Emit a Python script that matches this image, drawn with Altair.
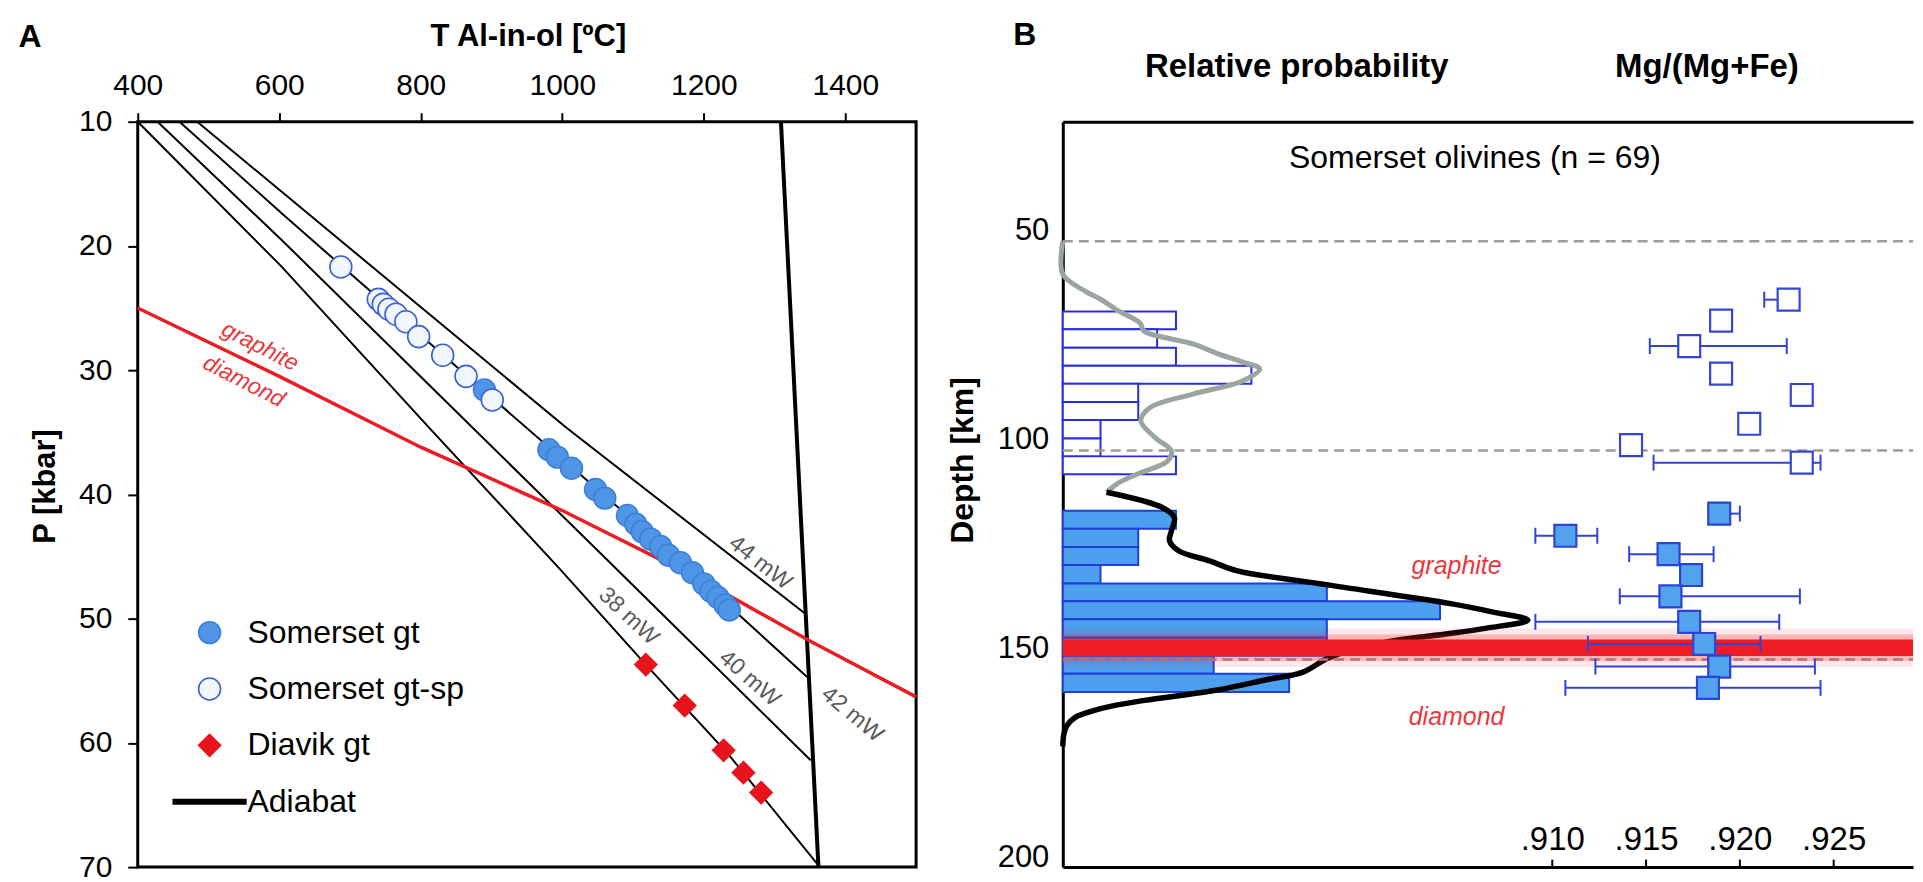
import altair as alt
import pandas as pd

FONT = "Liberation Sans"

# ---------------- Panel A : P-T diagram ----------------
geo_names = ["38 mW", "40 mW", "42 mW", "44 mW"]
geo38_T = [400, 603, 813, 998, 1118, 1233, 1364]
geo38_P = [10.0, 21.65, 34.7, 46.1, 53.7, 60.8, 70.0]
geo40_T = [428, 603, 878, 1064, 1351]
geo40_P = [10.0, 19.5, 34.9, 45.3, 61.4]
geo42_T = [459, 603, 886, 1167, 1346]
geo42_P = [10.0, 17.35, 31.5, 45.4, 54.7]
geo44_T = [484, 1005, 1343.5]
geo44_P = [10.0, 34.6, 49.6]

adiabat_T = [1309, 1362]
adiabat_P = [10.0, 70.0]

gd_T = [400, 600, 800, 1000, 1200, 1350, 1500]
gd_P = [25.0, 30.5, 36.2, 41.3, 47.0, 51.8, 56.3]

gt_T = [890, 981, 993, 1013, 1047, 1060, 1092, 1104, 1113, 1125, 1139, 1150,
        1167, 1184, 1200, 1210, 1220, 1230, 1236]
gt_P = [31.6, 36.4, 37.0, 37.9, 39.6, 40.3, 41.7, 42.4, 43.0, 43.6, 44.2, 44.9,
        45.5, 46.3, 47.2, 47.8, 48.3, 48.9, 49.3]
gtsp_T = [687, 740, 747, 755, 765, 779, 797, 831, 864, 901]
gtsp_P = [21.7, 24.3, 24.7, 25.1, 25.5, 26.1, 27.3, 28.8, 30.5, 32.4]
diavik_T = [1118, 1173, 1228, 1256, 1281]
diavik_P = [53.7, 57.0, 60.6, 62.4, 64.0]

geo_label_T = [1094, 1265, 1410, 1280]
geo_label_P = [49.8, 54.8, 57.7, 45.5]
geo_label_angle = [43, 41, 40, 38]

phaseA_labels = ["graphite", "diamond"]
phaseA_T = [573, 550]
phaseA_P = [28.1, 30.9]
phaseA_angle = [27, 27]

series_names = ["Somerset gt", "Somerset gt-sp", "Diavik gt", "Adiabat"]

# ---------------- Panel B : depth profile ----------------
open_top = [69.4, 73.7, 78.1, 82.4, 86.7, 91.1, 95.4, 99.8, 104.1]
open_bottom = [73.7, 78.1, 82.4, 86.7, 91.1, 95.4, 99.8, 104.1, 108.4]
open_count = [3, 2.5, 3, 5, 2, 2, 1, 1, 3]
fill_top = [117.1, 121.4, 125.8, 130.1, 134.5, 138.8, 143.1, 147.5, 151.8, 156.1]
fill_bottom = [121.4, 125.8, 130.1, 134.5, 138.8, 143.1, 147.5, 151.8, 156.1, 160.5]
fill_count = [3, 2, 2, 1, 7, 10, 7, 7, 4, 6]

kde_gray_depth = [52.6, 60.5, 64.6, 66.5, 69.4, 72.2, 74.1, 77.2, 79.5, 81.3, 83.2,
                  86.1, 89.2, 92.5, 95.6, 99.7, 102.8, 105.2, 108.3, 110.6, 112.7]
kde_gray_prob = [0, 0, 0.6, 1.0, 1.5, 2.05, 2.15, 3.45, 4.1, 4.7, 5.22,
                 4.75, 3.45, 2.3, 2.07, 2.46, 2.88, 2.78, 1.98, 1.45, 1.16]
kde_black_depth = [112.7, 116.4, 118.8, 121.9, 124.3, 126.7, 129.1, 131.5, 134.8,
                   139.4, 141.3, 143.3, 145.2, 146.5, 148.2, 149.9, 152.5, 155.8,
                   157.5, 160.0, 162.5, 163.8, 165.0, 166.5, 168.5, 170.5, 173.5]
kde_black_prob = [1.16, 2.65, 2.96, 2.88, 2.83, 3.07, 3.89, 4.63, 6.98,
                  10.32, 11.38, 12.33, 11.24, 10.26, 8.78, 7.83, 7.01, 6.35,
                  5.42, 4.10, 2.17, 1.32, 0.79, 0.34, 0.11, 0.03, 0]

sq_open_mg = [0.9226, 0.9190, 0.9173, 0.9190, 0.9233, 0.9205, 0.9142, 0.9233]
sq_open_depth = [66.6, 71.6, 77.7, 84.3, 89.4, 96.3, 101.4, 105.6]
sq_open_lo = [0.9213, 0.9190, 0.9152, 0.9190, 0.9233, 0.9205, 0.9142, 0.9154]
sq_open_hi = [0.9226, 0.9190, 0.9225, 0.9190, 0.9233, 0.9205, 0.9142, 0.9243]
sq_fill_mg = [0.9189, 0.9107, 0.9162, 0.9174, 0.9163, 0.9173, 0.9181, 0.9189, 0.9183]
sq_fill_depth = [117.8, 123.1, 127.5, 132.5, 137.6, 143.7, 149.0, 154.4, 159.5]
sq_fill_lo = [0.9189, 0.9091, 0.9141, 0.9174, 0.9136, 0.9091, 0.9119, 0.9123, 0.9107]
sq_fill_hi = [0.9200, 0.9124, 0.9186, 0.9174, 0.9232, 0.9221, 0.9211, 0.9240, 0.9243]

dashed_depth = [52.6, 102.7, 152.7]
band_center = 149.9
band_half = [4.6, 3.2, 2.0]
band_opacity = [0.1, 0.25, 1.0]

phaseB_labels = ["graphite", "diamond"]
phaseB_mg = [0.9049, 0.9049]
phaseB_depth = [130.3, 166.4]

mg_ticks = [0.910, 0.915, 0.920, 0.925]

# ---------------- tables ----------------
geo_rows = []
for name, ts, ps in zip(geo_names, [geo38_T, geo40_T, geo42_T, geo44_T],
                        [geo38_P, geo40_P, geo42_P, geo44_P]):
    for t, p in zip(ts, ps):
        geo_rows.append({"line": name, "T": t, "P": p})
geo_df = pd.DataFrame(geo_rows)
adi_df = pd.DataFrame({"T": adiabat_T, "P": adiabat_P})
gd_df = pd.DataFrame({"T": gd_T, "P": gd_P})
geo_lab_df = pd.DataFrame({"T": geo_label_T, "P": geo_label_P, "label": geo_names,
                           "ang": geo_label_angle})
phaseA_df = pd.DataFrame({"T": phaseA_T, "P": phaseA_P, "label": phaseA_labels,
                          "ang": phaseA_angle})
pts_df = pd.concat([
    pd.DataFrame({"T": gt_T, "P": gt_P, "series": series_names[0]}),
    pd.DataFrame({"T": gtsp_T, "P": gtsp_P, "series": series_names[1]}),
    pd.DataFrame({"T": diavik_T, "P": diavik_P, "series": series_names[2]}),
], ignore_index=True)

open_df = pd.DataFrame({"depth": open_top, "depth2": open_bottom, "count": open_count})
open_df["zero"] = 0
fill_df = pd.DataFrame({"depth": fill_top, "depth2": fill_bottom, "count": fill_count})
fill_df["zero"] = 0
gray_df = pd.DataFrame({"depth": kde_gray_depth, "prob": kde_gray_prob})
black_df = pd.DataFrame({"depth": kde_black_depth, "prob": kde_black_prob})
dash_df = pd.DataFrame({"depth": dashed_depth})
band_df = pd.DataFrame({"half": band_half, "op": band_opacity})
band_df["depth"] = band_center - band_df["half"]
band_df["depth2"] = band_center + band_df["half"]

sq_open_df = pd.DataFrame({"mg": sq_open_mg, "depth": sq_open_depth,
                           "lo": sq_open_lo, "hi": sq_open_hi})
sq_fill_df = pd.DataFrame({"mg": sq_fill_mg, "depth": sq_fill_depth,
                           "lo": sq_fill_lo, "hi": sq_fill_hi})
all_sq = pd.concat([sq_open_df, sq_fill_df], ignore_index=True)
err_df = all_sq[all_sq["hi"] > all_sq["lo"]]
cap_rows = []
for _, r in all_sq.iterrows():
    if r["lo"] < r["mg"]:
        cap_rows.append({"cap": r["lo"], "depth": r["depth"]})
    if r["hi"] > r["mg"]:
        cap_rows.append({"cap": r["hi"], "depth": r["depth"]})
cap_df = pd.DataFrame(cap_rows)
phaseB_df = pd.DataFrame({"mg": phaseB_mg, "depth": phaseB_depth, "label": phaseB_labels})

# ---------------- Panel A chart ----------------
W_A, H = 780, 747
sxA = alt.Scale(domain=[400, 1500], nice=False, zero=False)
syA = alt.Scale(domain=[10, 70], reverse=True, nice=False, zero=False)
axA_x = alt.Axis(orient="top", values=[400, 600, 800, 1000, 1200, 1400], format="d",
                 labelFlush=False, tickSize=9, tickWidth=2, tickColor="black",
                 domain=False, grid=False, labelFontSize=30, labelPadding=12,
                 labelColor="black", title="T Al-in-ol [ºC]", titleFontSize=31,
                 titleFontWeight="bold", titleColor="black", titleX=391, titleY=-85,
                 titleAlign="center", titleBaseline="middle")
axA_y = alt.Axis(values=[10, 20, 30, 40, 50, 60, 70], format="d", labelFlush=False,
                 tickSize=10, tickWidth=2, tickColor="black", domain=False, grid=False,
                 labelFontSize=30, labelPadding=16, labelColor="black",
                 title="P [kbar]", titleFontSize=31, titleFontWeight="bold",
                 titleColor="black", titleX=-92, titleY=365, titleAlign="center",
                 titleBaseline="middle", titleAngle=270)
xA = alt.X("T:Q", scale=sxA, axis=axA_x)
yA = alt.Y("P:Q", scale=syA, axis=axA_y)

geo_layer = alt.Chart(geo_df).mark_line(color="black", strokeWidth=2).encode(
    x=xA, y=yA, detail="line:N", order="P:Q")
adi_layer = alt.Chart(adi_df).mark_line(color="black", strokeWidth=4).encode(
    x=xA, y=yA, order="P:Q")
gd_layer = alt.Chart(gd_df).mark_line(color="#ea1d25", strokeWidth=3.5).encode(
    x=xA, y=yA, order="P:Q")
geo_txt = alt.Chart(geo_lab_df).mark_text(fontSize=23, color="#5a5a5a", align="center",
                                          baseline="middle").encode(
    x=xA, y=yA, text="label:N", angle=alt.Angle("ang:Q", scale=None))
phaseA_txt = alt.Chart(phaseA_df).mark_text(fontSize=23, fontStyle="italic",
                                            color="#e8383d", align="center",
                                            baseline="middle").encode(
    x=xA, y=yA, text="label:N", angle=alt.Angle("ang:Q", scale=None))

leg = alt.Legend(orient="none", legendX=56, legendY=496, title=None, labelFontSize=32,
                 labelColor="black", rowPadding=24.5, labelOffset=22, padding=0,
                 symbolOpacity=1, labelLimit=500)
pts_layer = alt.Chart(pts_df).mark_point(filled=True, opacity=1).encode(
    x=xA, y=yA,
    shape=alt.Shape("series:N", scale=alt.Scale(
        domain=series_names,
        range=["circle", "circle", "diamond", "M-3.3,-0.2H3.3V0.2H-3.3Z"]),
        legend=leg),
    fill=alt.Fill("series:N", scale=alt.Scale(
        domain=series_names, range=["#4f95e6", "#f2f7ff", "#e8141c", "#000000"]),
        legend=leg),
    stroke=alt.Stroke("series:N", scale=alt.Scale(
        domain=series_names, range=["#3b7fd9", "#3a5fd6", "#e8141c", "#000000"]),
        legend=leg),
    size=alt.Size("series:N", scale=alt.Scale(
        domain=series_names, range=[484, 484, 150, 400]), legend=leg),
    strokeWidth=alt.StrokeWidth("series:N", scale=alt.Scale(
        domain=series_names, range=[1.5, 1.8, 1, 1]), legend=leg),
)
labelA = alt.Chart(pd.DataFrame({"t": ["A"]})).mark_text(
    fontSize=32, fontWeight="bold", align="center", baseline="middle", color="black"
).encode(x=alt.value(-108), y=alt.value(-85), text="t:N")

panelA = alt.layer(geo_layer, adi_layer, gd_layer, geo_txt, phaseA_txt, pts_layer,
                   labelA).properties(
    width=W_A, height=H, view=alt.ViewBackground(stroke="black", strokeWidth=3))

# ---------------- Panel B chart ----------------
W_B = 852
syB = alt.Scale(domain=[24.0, 202.4], reverse=True, nice=False, zero=False)
axB_y = alt.Axis(values=[50, 100, 150, 200], ticks=False, grid=False,
                 labelFlush=False, domainColor="black", domainWidth=3,
                 labelFontSize=31, labelPadding=14, labelColor="black",
                 title="Depth [km]", titleFontSize=32, titleFontWeight="bold",
                 titleColor="black", titleX=-100, titleY=339, titleAlign="center",
                 titleBaseline="middle", titleAngle=270)
yB = alt.Y("depth:Q", scale=syB, axis=axB_y)
sxP = alt.Scale(domain=[0, 22.54], nice=False, zero=False)
# bottom-oriented axis moved up to the top edge of the panel
axP = alt.Axis(orient="bottom", offset=-H, labels=False, ticks=False, grid=False,
               domainColor="black", domainWidth=3, title="Relative probability",
               titleFontSize=33, titleFontWeight="bold", titleColor="black",
               titleX=234, titleY=-55, titleAlign="center", titleBaseline="middle")
sxM = alt.Scale(domain=[0.88391, 0.92923], nice=False, zero=False)
# top-oriented axis moved down to the bottom edge (ticks point inward)
axM = alt.Axis(orient="top", offset=-H, values=mg_ticks, labelFlush=False,
               labelExpr="replace(format(datum.value, '.3f'), '0.', '.')",
               tickSize=8, tickWidth=2, tickColor="black", grid=False,
               domainColor="black", domainWidth=3, labelFontSize=33, labelPadding=3,
               labelColor="black", title="Mg/(Mg+Fe)", titleFontSize=33,
               titleFontWeight="bold", titleColor="black", titleX=645, titleY=-802,
               titleAlign="center", titleBaseline="middle")

open_bars = alt.Chart(open_df).mark_rect(fill="white", stroke="#2a2ee0",
                                         strokeWidth=2).encode(
    x=alt.X("zero:Q", scale=sxP, axis=axP), x2="count:Q", y=yB, y2="depth2:Q")
fill_bars = alt.Chart(fill_df).mark_rect(fill="#4d9ff0", stroke="#1f3fd6",
                                         strokeWidth=2).encode(
    x=alt.X("zero:Q", scale=sxP, axis=axP), x2="count:Q", y=yB, y2="depth2:Q")
kde_gray = alt.Chart(gray_df).mark_line(color="#9ba59f", strokeWidth=5,
                                        interpolate="catmull-rom").encode(
    x=alt.X("prob:Q", scale=sxP, axis=axP), y=yB, order="depth:Q")
kde_black = alt.Chart(black_df).mark_line(color="black", strokeWidth=5.5,
                                          interpolate="catmull-rom").encode(
    x=alt.X("prob:Q", scale=sxP, axis=axP), y=yB, order="depth:Q")
dashed = alt.Chart(dash_df).mark_rule(color="#9c9c9c", strokeWidth=2.5,
                                      strokeDash=[10, 6]).encode(
    y=yB, x=alt.value(0), x2=alt.value(W_B))
band = alt.Chart(band_df).mark_rect(color="#ee1c25").encode(
    y=yB, y2="depth2:Q", x=alt.value(0), x2=alt.value(W_B),
    opacity=alt.Opacity("op:Q", scale=None))
somerset_txt = alt.Chart(pd.DataFrame({"t": ["Somerset olivines (n = 69)"]})).mark_text(
    fontSize=32, color="black", align="center", baseline="middle").encode(
    x=alt.value(413), y=alt.value(36), text="t:N")
labelB = alt.Chart(pd.DataFrame({"t": ["B"]})).mark_text(
    fontSize=32, fontWeight="bold", align="center", baseline="middle", color="black"
).encode(x=alt.value(-38), y=alt.value(-87), text="t:N")

prob_group = alt.layer(open_bars, fill_bars, kde_gray, kde_black, dashed, band,
                       somerset_txt, labelB)

err_layer = alt.Chart(err_df).mark_rule(color="#3343d4", strokeWidth=2).encode(
    x=alt.X("lo:Q", scale=sxM, axis=axM), x2="hi:Q", y=yB)
cap_layer = alt.Chart(cap_df).mark_tick(orient="vertical", size=16, thickness=2,
                                        color="#3343d4", opacity=1).encode(
    x=alt.X("cap:Q", scale=sxM, axis=axM), y=yB)
sq_open = alt.Chart(sq_open_df).mark_point(shape="square", size=484, filled=True,
                                           fill="white", stroke="#3446d6",
                                           strokeWidth=2.2, opacity=1).encode(
    x=alt.X("mg:Q", scale=sxM, axis=axM), y=yB)
sq_fill = alt.Chart(sq_fill_df).mark_point(shape="square", size=484, filled=True,
                                           fill="#52a2ee", stroke="#2c44d2",
                                           strokeWidth=2.2, opacity=1).encode(
    x=alt.X("mg:Q", scale=sxM, axis=axM), y=yB)
phaseB_txt = alt.Chart(phaseB_df).mark_text(fontSize=25, fontStyle="italic",
                                            color="#e8383d", align="center",
                                            baseline="middle").encode(
    x=alt.X("mg:Q", scale=sxM, axis=axM), y=yB, text="label:N")

mg_group = alt.layer(err_layer, cap_layer, sq_open, sq_fill, phaseB_txt)

panelB = alt.layer(prob_group, mg_group).resolve_scale(x="independent").properties(
    width=W_B, height=H, view=alt.ViewBackground(stroke="transparent", strokeWidth=0))

chart = alt.hconcat(panelA, panelB, spacing=147, bounds="flush").properties(
    padding={"left": 8, "top": 10, "right": 0, "bottom": 0}
).configure(font=FONT)

chart.save("out.html", embed_options={"renderer": "svg", "actions": False})
